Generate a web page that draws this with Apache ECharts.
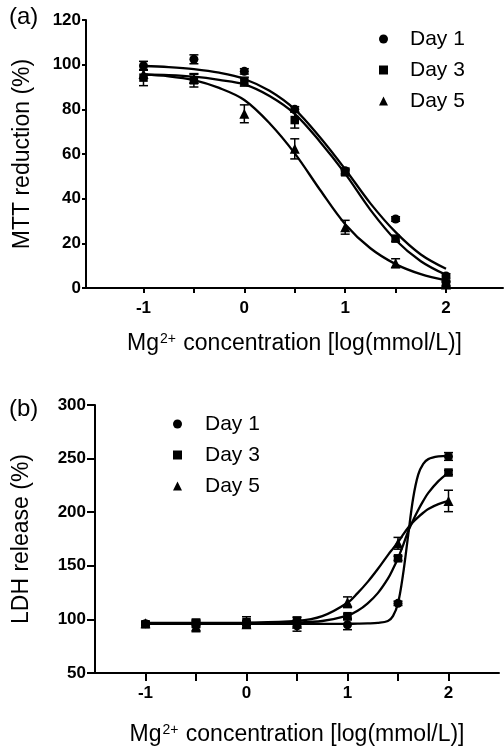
<!DOCTYPE html>
<html>
<head>
<meta charset="utf-8">
<script src="https://cdn.jsdelivr.net/npm/echarts@6/dist/echarts.min.js"></script>
<style>html,body{margin:0;padding:0;background:#fff}#c{width:504px;height:750px}</style>
</head>
<body>
<div id="c"></div>
<script>
// ---------- data ----------
const xDoses = [-1, -0.5, 0, 0.5, 1, 1.5, 2];

// Panel (a) MTT reduction (%)
const mttDay1 = [99.5, 102.4, 97.0, 80.0, 52.5, 30.9, 5.4];
const mttDay1Err = [2, 2, 1.2, 1.2, 1.2, 1, 1];
const mttDay3 = [94.2, 93.0, 92.4, 75.2, 51.8, 22.1, 2.1];
const mttDay3Err = [3.6, 3, 2, 3.6, 1.2, 1.2, 1];
const mttDay5 = [95.8, 93.7, 78.0, 62.3, 27.2, 11.1, 1.6];
const mttDay5Err = [2, 2, 4, 4.5, 3.1, 2, 1];

// fitted curves
const fitXA = [-1, -0.75, -0.5, -0.25, 0, 0.25, 0.5, 0.75, 1, 1.25, 1.5, 1.75, 2];
const fitMttDay1 = [99.4, 98.9, 98.0, 96.4, 93.6, 88.3, 80.0, 67.5, 53.2, 37.9, 25.0, 15.0, 8.6];
const fitMttDay3 = [95.6, 95.3, 94.6, 93.2, 91.2, 86.0, 78.0, 65.5, 51.2, 35.0, 21.5, 12.0, 5.9];
const fitMttDay5 = [95.5, 94.8, 93.1, 89.6, 84.2, 73.8, 60.3, 44.0, 28.6, 17.8, 10.7, 6.2, 3.4];

// Panel (b) LDH release (%)
const ldhDay1 = [96, 95.5, 96.5, 94, 95, 115, 252];
const ldhDay1Err = [1.5, 3, 2.5, 5, 4.6, 2, 3.6];
const ldhDay3 = [95.5, 97, 97.5, 99, 103, 157, 237];
const ldhDay3Err = [1.5, 3, 5, 3, 2, 2, 2];
const ldhDay5 = [96.5, 93.5, 95.5, 96, 116, 171, 210.5];
const ldhDay5Err = [1.5, 5, 3, 3, 5, 5.5, 10];

const fitXB = [-1, -0.5, 0, 0.5, 0.75, 1, 1.1, 1.2, 1.3, 1.4, 1.45, 1.5, 1.55, 1.6, 1.65, 1.7, 1.75, 1.8, 1.9, 2];
const fitLdhDay1 = [95.8, 95.8, 95.8, 95.8, 95.8, 95.9, 96, 96.2, 96.7, 98.5, 103, 115, 142, 178, 213, 235, 245, 249.5, 252, 252.5];
const fitLdhDay3 = [96.5, 96.5, 96.6, 97.2, 98.5, 103.5, 108, 115, 124.5, 138, 147, 157, 169, 182, 192.5, 202, 210.5, 218, 229, 237];
const fitLdhDay5 = [96.8, 96.8, 97, 98.5, 103, 115.5, 124.5, 135, 147, 160, 166, 172, 179, 185.5, 191, 195.5, 199.5, 203, 207.5, 210.5];

// axis ticks / labels
const xTickValues = [-1, -0.5, 0, 0.5, 1, 1.5, 2];
const xLabelValues = [-1, 0, 1, 2];
const legendNames = ['Day 1', 'Day 3', 'Day 5'];
const symbols = ['circle', 'rect', 'triangle'];
const symbolSizes = [9, 8.5, 10];

// ---------- helpers ----------
const FONT = 'Liberation Sans, Arial, sans-serif';
const zip = (xs, ys) => xs.map((x, i) => [x, ys[i]]);
const zip3 = (xs, ys, es) => xs.map((x, i) => [x, ys[i], es[i]]);

function errRender(params, api) {
  const x = api.value(0), y = api.value(1), e = api.value(2);
  const t = api.coord([x, y + e]);
  const b = api.coord([x, y - e]);
  const hw = 4.5;
  const st = { stroke: '#000', lineWidth: 1.5 };
  return {
    type: 'group',
    children: [
      { type: 'line', shape: { x1: t[0], y1: t[1], x2: b[0], y2: b[1] }, style: st },
      { type: 'line', shape: { x1: t[0] - hw, y1: t[1], x2: t[0] + hw, y2: t[1] }, style: st },
      { type: 'line', shape: { x1: b[0] - hw, y1: b[1], x2: b[0] + hw, y2: b[1] }, style: st }
    ]
  };
}

function panelSeries(idx, pts, errs, fits, fitX) {
  const out = [];
  for (let k = 0; k < 3; k++) {
    out.push({
      type: 'custom', name: 'err' + idx + k, xAxisIndex: idx, yAxisIndex: idx,
      renderItem: errRender, encode: { x: 0, y: 1 }, z: 2,
      data: zip3(xDoses, pts[k], errs[k])
    });
    out.push({
      type: 'line', name: 'fit' + idx + k, xAxisIndex: idx, yAxisIndex: idx,
      data: zip(fitX, fits[k]), showSymbol: false, symbol: 'none', smooth: 0.35,
      lineStyle: { color: '#000', width: 2.3 }, z: 3
    });
    out.push({
      type: 'scatter', name: legendNames[k], xAxisIndex: idx, yAxisIndex: idx,
      data: zip(xDoses, pts[k]), symbol: symbols[k], symbolSize: symbolSizes[k],
      itemStyle: { color: '#000', opacity: 1 }, z: 4
    });
  }
  return out;
}

function xAxisCfg(idx, min, max, tickLen) {
  return {
    type: 'value', gridIndex: idx, min: min, max: max,
    axisLine: { show: true, lineStyle: { color: '#000', width: 2 }, onZero: false },
    axisTick: { show: true, customValues: xTickValues, length: tickLen, lineStyle: { color: '#000', width: 2 } },
    axisLabel: { customValues: xLabelValues, color: '#000', fontFamily: FONT, fontWeight: 'bold', fontSize: 17, margin: 12 },
    splitLine: { show: false },
    name: 'Mg{sup|2+} concentration [log(mmol/L)]',
    nameLocation: 'middle', nameGap: idx === 0 ? 44 : 50,
    nameTextStyle: {
      color: '#000', fontFamily: FONT, fontSize: 23,
      rich: { sup: { fontSize: 14, fontFamily: FONT, color: '#000', verticalAlign: 'top', padding: [0, 1, 0, 1] } }
    }
  };
}

function yAxisCfg(idx, min, max, interval, name, tickLen, margin, gap) {
  return {
    type: 'value', gridIndex: idx, min: min, max: max, interval: interval,
    axisLine: { show: true, onZero: false, lineStyle: { color: '#000', width: 2 } },
    axisTick: { show: true, length: tickLen, lineStyle: { color: '#000', width: 2 } },
    axisLabel: { color: '#000', fontFamily: FONT, fontWeight: 'bold', fontSize: 17, margin: margin },
    splitLine: { show: false },
    name: name, nameLocation: 'middle', nameGap: gap,
    nameTextStyle: { color: '#000', fontFamily: FONT, fontSize: 23 }
  };
}

function legendCfg(left, top, pad) {
  return {
    data: legendNames, orient: 'vertical', left: left, top: top,
    itemWidth: 9, itemHeight: 9, itemGap: 9, selectedMode: false,
    textStyle: { color: '#000', fontFamily: FONT, fontSize: 21, lineHeight: 22, padding: [0, 0, 0, pad] }
  };
}

const chart = echarts.init(document.getElementById('c'), null, { renderer: 'canvas' });
chart.setOption({
  backgroundColor: '#fff',
  animation: false,
  title: [
    { text: '(a)', left: 4, top: 0, textStyle: { fontFamily: FONT, fontSize: 24, fontWeight: 'normal', color: '#000' } },
    { text: '(b)', left: 4, top: 392, textStyle: { fontFamily: FONT, fontSize: 24, fontWeight: 'normal', color: '#000' } }
  ],
  legend: [legendCfg(374, 23, 17), legendCfg(168, 408, 18)],
  grid: [
    { left: 86, top: 20, width: 417, height: 268 },
    { left: 95, top: 405, width: 404, height: 268 }
  ],
  xAxis: [xAxisCfg(0, -1.57, 2.565, 5), xAxisCfg(1, -1.5, 2.5, 8)],
  yAxis: [
    yAxisCfg(0, 0, 120, 20, 'MTT reduction (%)', 4, 5, 52),
    yAxisCfg(1, 50, 300, 50, 'LDH release (%)', 8, 9, 62)
  ],
  series: [].concat(
    panelSeries(0, [mttDay1, mttDay3, mttDay5], [mttDay1Err, mttDay3Err, mttDay5Err],
      [fitMttDay1, fitMttDay3, fitMttDay5], fitXA),
    panelSeries(1, [ldhDay1, ldhDay3, ldhDay5], [ldhDay1Err, ldhDay3Err, ldhDay5Err],
      [fitLdhDay1, fitLdhDay3, fitLdhDay5], fitXB)
  )
});
</script>
</body>
</html>
